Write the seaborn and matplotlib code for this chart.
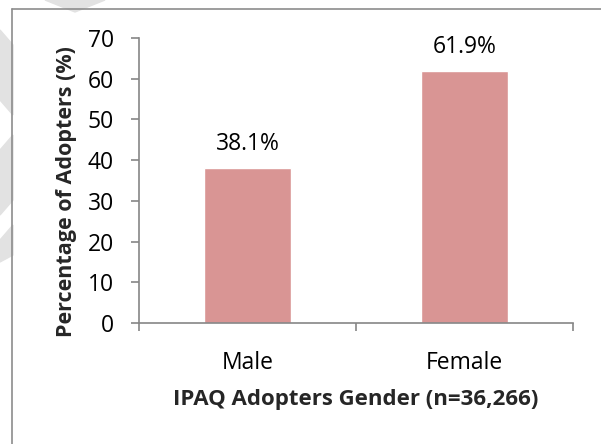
import matplotlib
matplotlib.use("Agg")
import matplotlib.pyplot as plt
from matplotlib.patches import Polygon
from matplotlib.ticker import FixedLocator
import seaborn as sns
import pandas as pd

# Data
genders = ["Male", "Female"]
percentages = [38.1, 61.9]
bar_labels = ["38.1%", "61.9%"]
y_ticks = [0, 10, 20, 30, 40, 50, 60, 70]

df = pd.DataFrame({"gender": genders, "pct": percentages})

sns.set_style("white")
plt.rcParams["font.family"] = ["Open Sans", "DejaVu Sans"]

W, H = 601, 444
fig = plt.figure(figsize=(W / 100, H / 100), dpi=100)


def px(x, y):
    return [x / W, 1 - y / H]


# faint watermark shapes behind the chart
wm = "#e2e2e2"
for pts in ([(45, 0), (105, 0), (75, 12)],
            [(0, 30), (13, 45), (13, 115), (0, 100)],
            [(0, 150), (13, 135), (13, 200), (0, 215)],
            [(0, 240), (13, 225), (13, 255), (0, 262)]):
    fig.patches.append(Polygon([px(*p) for p in pts], closed=True, color=wm,
                               transform=fig.transFigure, zorder=0))

# chart area border (left and top only visible)
fig.add_artist(plt.Line2D([12 / W, 12 / W], [0, 1 - 9 / H], color="#8c8c8c", lw=1.2,
                          transform=fig.transFigure))
fig.add_artist(plt.Line2D([12 / W, 1], [1 - 9 / H, 1 - 9 / H], color="#8c8c8c", lw=1.2,
                          transform=fig.transFigure))

ax = fig.add_axes([139 / W, 1 - 323 / H, 434 / W, 285 / H])
sns.barplot(data=df, x="gender", y="pct", color="#D99594", saturation=1, width=0.4, ax=ax)

ax.set_xlim(-0.5, 1.5)
ax.set_ylim(0, 70)
ax.set_yticks(y_ticks)
ax.xaxis.set_minor_locator(FixedLocator([-0.5, 0.5, 1.5]))

for sp in ["top", "right"]:
    ax.spines[sp].set_visible(False)
for sp in ["left", "bottom"]:
    ax.spines[sp].set_color("#868686")
    ax.spines[sp].set_linewidth(1.2)

ax.tick_params(axis="y", which="major", direction="out", length=6, width=1.2, color="#868686",
               left=True, labelsize=16.5, pad=12, labelcolor="#000000")
ax.tick_params(axis="x", which="major", length=0, labelsize=16.5, pad=20, labelcolor="#000000")
ax.tick_params(axis="x", which="minor", direction="out", length=6, width=1.2, color="#868686",
               bottom=True)

for i, (v, lab) in enumerate(zip(percentages, bar_labels)):
    ax.annotate(lab, (i, v), xytext=(0, 8.5), textcoords="offset points",
                ha="center", va="bottom", fontsize=16.5, color="#000000")

ax.set_xlabel("IPAQ Adopters Gender (n=36,266)", fontsize=16, fontweight="bold", labelpad=10)
ax.set_ylabel("Percentage of Adopters (%)", fontsize=15.5, fontweight="bold")
ax.yaxis.set_label_coords(-0.142, 0.46)

fig.savefig("out.png", dpi=100)
